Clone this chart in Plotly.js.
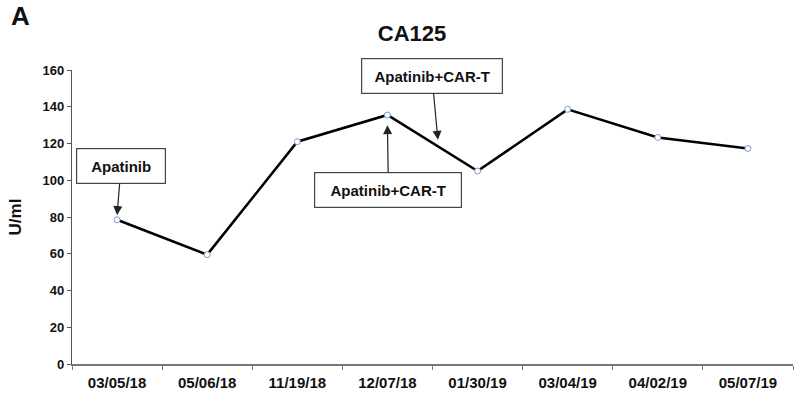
<!DOCTYPE html>
<html>
<head>
<meta charset="utf-8">
<script src="https://cdn.plot.ly/plotly-3.0.1.min.js"></script>
<style>html,body{margin:0;padding:0;background:#fff;}#chart{width:800px;height:397px;}</style>
</head>
<body>
<div id="chart"></div>
<script>
const dates = ["03/05/18","05/06/18","11/19/18","12/07/18","01/30/19","03/04/19","04/02/19","05/07/19"];
const ca125 = [78.5, 59.5, 121, 135.5, 105, 138.6, 123.3, 117.3];
const yTicks = [0,20,40,60,80,100,120,140,160];

const F = "Liberation Sans, Arial, sans-serif";

const trace = {
  x: dates, y: ca125, type: "scatter", mode: "lines+markers",
  line: {color: "#000", width: 2.6},
  marker: {symbol: "circle", size: 6, color: "#fff", line: {color: "#7a9cc8", width: 1}},
  hoverinfo: "x+y"
};

const boxAnn = (x, y, text, ax, ay, w) => ({
  x: x, y: y, xref: "x", yref: "y", text: "<b>" + text + "</b>",
  showarrow: true, arrowhead: 2, arrowsize: 1.5, arrowwidth: 1.2, arrowcolor: "#222",
  ax: ax, ay: ay, bordercolor: "#444", borderwidth: 1.2, bgcolor: "#fff",
  width: w, height: 32, font: {family: F, size: 15, color: "#111"}, align: "center"
});

const layout = {
  width: 800, height: 397,
  margin: {l: 72, r: 7, t: 70, b: 33},
  paper_bgcolor: "#fff", plot_bgcolor: "#fff",
  showlegend: false,
  title: {text: "<b>CA125</b>", x: 0.515, xanchor: "center", y: 0.917, yanchor: "middle",
          font: {family: F, size: 22, color: "#111"}},
  xaxis: {
    type: "category", range: [-0.5, 7.5], tickson: "boundaries",
    ticks: "outside", ticklen: 4, tickcolor: "#777", showline: true, linecolor: "#777", linewidth: 1.5,
    showgrid: false, zeroline: false, ticklabelstandoff: 4,
    tickvals: dates, ticktext: dates.map(d => "<b>" + d + "</b>"),
    tickfont: {family: F, size: 15, color: "#111"}
  },
  yaxis: {
    range: [0, 160], tickvals: yTicks, ticktext: yTicks.map(v => "<b>" + v + "</b>"),
    ticks: "outside", ticklen: 4, tickcolor: "#555", showline: true, linecolor: "#555", linewidth: 1.2,
    showgrid: false, zeroline: false,
    tickfont: {family: F, size: 13, color: "#111"},
    title: {text: "<b>U/ml</b>", standoff: 16, font: {family: F, size: 17, color: "#111"}}
  },
  annotations: [
    boxAnn("03/05/18", 81, "Apatinib", 4, -49, 86),
    boxAnn(3.56, 122, "Apatinib+CAR-T", -6, -64, 138),
    boxAnn("12/07/18", 130, "Apatinib+CAR-T", 1, 65, 144),
    {xref: "paper", yref: "paper", x: -0.088, y: 1.24, xanchor: "left", yanchor: "top",
     text: "<b>A</b>", showarrow: false, font: {family: F, size: 26, color: "#111"}}
  ]
};

Plotly.newPlot("chart", [trace], layout, {displayModeBar: false, staticPlot: true});
</script>
</body>
</html>
